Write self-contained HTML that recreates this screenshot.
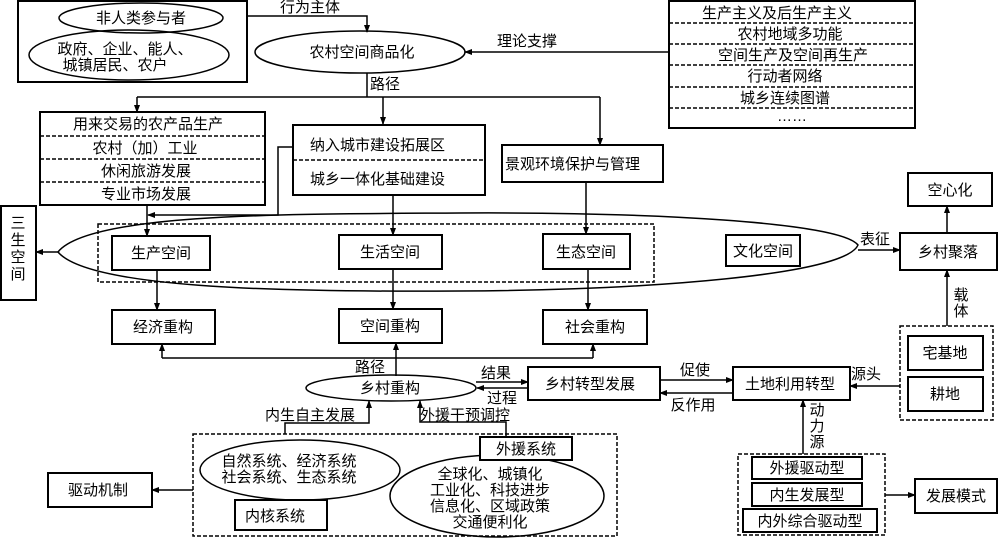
<!DOCTYPE html>
<html><head><meta charset="utf-8"><style>
body{margin:0;background:#fff}
svg text{font-family:"Liberation Sans","Noto Sans CJK SC",sans-serif;font-size:15px;fill:#000}
</style></head><body>
<svg width="1000" height="538" viewBox="0 0 1000 538" xmlns="http://www.w3.org/2000/svg">
<defs><marker id="a" markerWidth="8" markerHeight="8" refX="7" refY="4" orient="auto" markerUnits="userSpaceOnUse"><path d="M0,1 L8,4 L0,7z" fill="#000"/></marker></defs>
<g fill="none" stroke="#000" stroke-width="1.5">
<rect x="18" y="1" width="229" height="81" stroke-width="2"/>
<ellipse cx="141" cy="18" rx="82" ry="15"/>
<ellipse cx="129" cy="55" rx="100" ry="25"/>
<polyline points="247,16 367,16 367,32" marker-end="url(#a)"/>
<ellipse cx="360" cy="52" rx="105" ry="21"/>
<line x1="669" y1="52" x2="465" y2="52" marker-end="url(#a)"/>
<rect x="669" y="1" width="246" height="127" stroke-width="2"/>
<g stroke-dasharray="4,2"><line x1="669" y1="23" x2="915" y2="23"/><line x1="669" y1="44" x2="915" y2="44"/><line x1="669" y1="65" x2="915" y2="65"/><line x1="669" y1="87" x2="915" y2="87"/><line x1="669" y1="108" x2="915" y2="108"/></g>
<line x1="367" y1="73" x2="367" y2="97"/>
<line x1="137" y1="97" x2="600" y2="97"/>
<line x1="137" y1="97" x2="137" y2="112" marker-end="url(#a)"/>
<line x1="383" y1="97" x2="383" y2="124" marker-end="url(#a)"/>
<line x1="600" y1="97" x2="600" y2="145" marker-end="url(#a)"/>
<rect x="40" y="112" width="225" height="93" stroke-width="2"/>
<g stroke-dasharray="4,2"><line x1="40" y1="136" x2="265" y2="136"/><line x1="40" y1="159" x2="265" y2="159"/><line x1="40" y1="182" x2="265" y2="182"/></g>
<rect x="293" y="125" width="192" height="70" stroke-width="2"/>
<line x1="293" y1="160" x2="485" y2="160" stroke-dasharray="4,2"/>
<polyline points="293,147 278,147 278,215 148,215" marker-end="url(#a)"/>
<line x1="147" y1="205" x2="147" y2="236" marker-end="url(#a)"/>
<line x1="393" y1="195" x2="393" y2="235" marker-end="url(#a)"/>
<rect x="502" y="145" width="161" height="37" stroke-width="2"/>
<line x1="586" y1="182" x2="586" y2="234" marker-end="url(#a)"/>
<path d="M58,252 C90,212 300,214 460,213 C650,212 840,222 858,245 C845,275 650,290 460,291 C300,292 90,290 58,252z"/>
<rect x="98" y="224" width="556" height="58" stroke-dasharray="4,2"/>
<rect x="112" y="236" width="98" height="34" stroke-width="2"/>
<rect x="339" y="235" width="103" height="34" stroke-width="2"/>
<rect x="543" y="234" width="87" height="35" stroke-width="2"/>
<rect x="726" y="235" width="74" height="31" stroke-width="2"/>
<rect x="1" y="206" width="35" height="94" stroke-width="2"/>
<line x1="58" y1="252" x2="36" y2="252" marker-end="url(#a)"/>
<line x1="858" y1="250" x2="900" y2="250" marker-end="url(#a)"/>
<rect x="900" y="233" width="97" height="37" stroke-width="2"/>
<rect x="908" y="173" width="84" height="33" stroke-width="2"/>
<line x1="947" y1="233" x2="947" y2="206" marker-end="url(#a)"/>
<line x1="157" y1="270" x2="157" y2="310" marker-end="url(#a)"/>
<line x1="393" y1="269" x2="393" y2="309" marker-end="url(#a)"/>
<line x1="588" y1="269" x2="588" y2="310" marker-end="url(#a)"/>
<rect x="112" y="310" width="103" height="34" stroke-width="2"/>
<rect x="339" y="309" width="103" height="34" stroke-width="2"/>
<rect x="543" y="310" width="104" height="34" stroke-width="2"/>
<line x1="162" y1="358" x2="593" y2="358"/>
<line x1="162" y1="358" x2="162" y2="344" marker-end="url(#a)"/>
<line x1="593" y1="358" x2="593" y2="344" marker-end="url(#a)"/>
<line x1="396" y1="376" x2="396" y2="343" marker-end="url(#a)"/>
<ellipse cx="391" cy="388" rx="85" ry="13"/>
<line x1="476" y1="382" x2="528" y2="382" marker-end="url(#a)"/>
<line x1="528" y1="388" x2="477" y2="388" marker-end="url(#a)"/>
<rect x="528" y="367" width="132" height="33" stroke-width="2"/>
<line x1="660" y1="380" x2="733" y2="380" marker-end="url(#a)"/>
<line x1="733" y1="393" x2="660" y2="393" marker-end="url(#a)"/>
<rect x="733" y="367" width="117" height="33" stroke-width="2"/>
<line x1="900" y1="386" x2="850" y2="386" marker-end="url(#a)"/>
<rect x="900" y="326" width="93" height="94" stroke-dasharray="4,2"/>
<rect x="908" y="336" width="75" height="34" stroke-width="2"/>
<rect x="908" y="377" width="75" height="34" stroke-width="2"/>
<line x1="947" y1="326" x2="947" y2="270" marker-end="url(#a)"/>
<line x1="803" y1="454" x2="803" y2="400" marker-end="url(#a)"/>
<rect x="738" y="454" width="147" height="81" stroke-dasharray="4,2"/>
<rect x="752" y="457" width="110" height="22" stroke-width="2"/>
<rect x="752" y="483" width="110" height="23" stroke-width="2"/>
<rect x="743" y="509" width="134" height="23" stroke-width="2"/>
<line x1="885" y1="495" x2="915" y2="495" marker-end="url(#a)"/>
<rect x="915" y="479" width="82" height="34" stroke-width="2"/>
<polyline points="285,434 285,423 369,423 369,401" marker-end="url(#a)"/>
<polyline points="506,437 506,422 420,422 420,401" marker-end="url(#a)"/>
<rect x="193" y="434" width="424" height="102" stroke-dasharray="4,2"/>
<ellipse cx="300" cy="470" rx="100" ry="30"/>
<rect x="235" y="500" width="92" height="30" stroke-width="2"/>
<ellipse cx="497" cy="496" rx="107" ry="41"/>
<rect x="480" y="437" width="92" height="23" stroke-width="2" fill="#fff"/>
<line x1="193" y1="490" x2="152" y2="490" marker-end="url(#a)"/>
<rect x="48" y="473" width="104" height="34" stroke-width="2"/>
</g>
<g text-anchor="middle">
<text x="141" y="23">非人类参与者</text>
<text x="125" y="54">政府、企业、能人、</text>
<text x="115" y="70">城镇居民、农户</text>
<text x="310" y="12">行为主体</text>
<text x="362" y="57">农村空间商品化</text>
<text x="527" y="46">理论支撑</text>
<text x="777" y="18">生产主义及后生产主义</text>
<text x="790" y="39">农村地域多功能</text>
<text x="793" y="60">空间生产及空间再生产</text>
<text x="785" y="81">行动者网络</text>
<text x="785" y="103">城乡连续图谱</text>
<text x="792" y="121">……</text>
<text x="385" y="89">路径</text>
<text x="148" y="129">用来交易的农产品生产</text>
<text x="145" y="153">农村（加）工业</text>
<text x="146" y="176">休闲旅游发展</text>
<text x="146" y="199">专业市场发展</text>
<text x="161" y="258">生产空间</text>
<text x="390" y="257">生活空间</text>
<text x="586" y="257">生态空间</text>
<text x="763" y="256">文化空间</text>
<text x="875" y="244">表征</text>
<text x="948" y="257">乡村聚落</text>
<text x="950" y="195">空心化</text>
<text x="163" y="332">经济重构</text>
<text x="390" y="331">空间重构</text>
<text x="595" y="332">社会重构</text>
<text x="370" y="372">路径</text>
<text x="390" y="393">乡村重构</text>
<text x="496" y="378">结果</text>
<text x="502" y="403">过程</text>
<text x="590" y="389">乡村转型发展</text>
<text x="695" y="375">促使</text>
<text x="693" y="410">反作用</text>
<text x="790" y="389">土地利用转型</text>
<text x="866" y="379">源头</text>
<text x="945" y="358">宅基地</text>
<text x="945" y="399">耕地</text>
<text x="807" y="473">外援驱动型</text>
<text x="807" y="500">内生发展型</text>
<text x="810" y="526">内外综合驱动型</text>
<text x="956" y="501">发展模式</text>
<text x="310" y="420">内生自主发展</text>
<text x="465" y="420">外援干预调控</text>
<text x="526" y="454">外援系统</text>
<text x="289" y="466">自然系统、经济系统</text>
<text x="289" y="482">社会系统、生态系统</text>
<text x="275" y="521">内核系统</text>
<text x="490" y="479">全球化、城镇化</text>
<text x="490" y="495">工业化、科技进步</text>
<text x="490" y="511">信息化、区域政策</text>
<text x="490" y="527">交通便利化</text>
<text x="98" y="495">驱动机制</text>
</g>
<text x="310" y="150">纳入城市建设拓展区</text>
<text x="310" y="184">城乡一体化基础建设</text>
<text x="505" y="169">景观环境保护与管理</text>
<g text-anchor="middle">
<text x="18" y="228">三</text><text x="18" y="245">生</text><text x="18" y="262">空</text><text x="18" y="279">间</text>
<text x="961" y="300">载</text><text x="961" y="316">体</text>
<text x="817" y="415">动</text><text x="817" y="431">力</text><text x="817" y="447">源</text>
</g>
</svg>
</body></html>
